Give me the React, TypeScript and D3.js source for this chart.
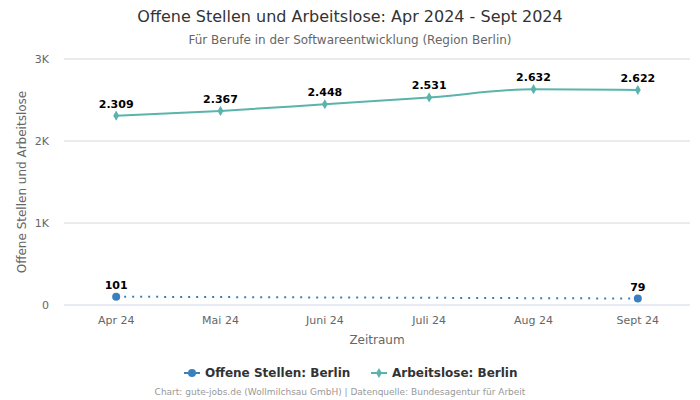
import React from "react";
import * as d3 from "d3";

const categories = ["Apr 24", "Mai 24", "Juni 24", "Juli 24", "Aug 24", "Sept 24"];
const offeneStellen: (number | null)[] = [101, null, null, null, null, 79];
const arbeitslose: number[] = [2309, 2367, 2448, 2531, 2632, 2622];
const yTicks = [0, 1000, 2000, 3000];
const yTickLabels = ["0", "1K", "2K", "3K"];

const W = 700, H = 400;
const left = 64, right = 690, top = 59, bottom = 305;
const font = "DejaVu Sans, sans-serif";
const teal = "#5ab4ac";
const blue = "#3a80be";

const fmt = (v: number) => d3.format(",")(v).replace(/,/g, ".");

export default function App() {
  const x = d3.scaleBand<string>().domain(categories).range([left, right]);
  const cx = (c: string) => (x(c) as number) + x.bandwidth() / 2;
  const y = d3.scaleLinear().domain([0, 3000]).range([bottom, top]);

  const tealLine = d3
    .line<number>()
    .x((_, i) => cx(categories[i]))
    .y((d) => y(d))
    .curve(d3.curveMonotoneX)(arbeitslose) as string;

  const blueDefined = offeneStellen
    .map((v, i) => ({ v, i }))
    .filter((d) => d.v !== null) as { v: number; i: number }[];
  const blueLine = d3
    .line<{ v: number; i: number }>()
    .x((d) => cx(categories[d.i]))
    .y((d) => y(d.v))(blueDefined) as string;

  const diamond = d3.symbol().type(d3.symbolDiamond).size(30)() as string;

  return (
    <svg width={W} height={H} style={{ position: "absolute", left: 0, top: 0, fontFamily: font }}>
      <rect width={W} height={H} fill="#fff" />
      <text x={W / 2} y={22} textAnchor="middle" fontSize={16} fill="#333">
        Offene Stellen und Arbeitslose: Apr 2024 - Sept 2024
      </text>
      <text x={W / 2} y={44} textAnchor="middle" fontSize={12} fill="#666">
        Für Berufe in der Softwareentwicklung (Region Berlin)
      </text>
      {yTicks.map((t, i) => (
        <g key={t}>
          <line x1={left} x2={right} y1={y(t)} y2={y(t)} stroke={i === 0 ? "#ccd6eb" : "#d8d8d8"} strokeWidth={1} />
          <text x={49} y={y(t) + 4} textAnchor="end" fontSize={11} fill="#666">
            {yTickLabels[i]}
          </text>
        </g>
      ))}
      {categories.map((c) => (
        <text key={c} x={cx(c)} y={324} textAnchor="middle" fontSize={11} fill="#666">
          {c}
        </text>
      ))}
      <text x={(left + right) / 2} y={344} textAnchor="middle" fontSize={12} fill="#666">
        Zeitraum
      </text>
      <text
        transform={`translate(26, ${(top + bottom) / 2}) rotate(-90)`}
        textAnchor="middle"
        fontSize={12}
        fill="#666"
      >
        Offene Stellen und Arbeitslose
      </text>

      <path d={tealLine} fill="none" stroke={teal} strokeWidth={2} />
      {arbeitslose.map((v, i) => (
        <g key={i}>
          <path d={diamond} transform={`translate(${cx(categories[i])},${y(v)})`} fill={teal} />
          <text x={cx(categories[i])} y={y(v) - 8} textAnchor="middle" fontSize={11} fontWeight="bold" fill="#000">
            {fmt(v)}
          </text>
        </g>
      ))}

      <path d={blueLine} fill="none" stroke={blue} strokeWidth={2} strokeDasharray="2,6" />
      {blueDefined.map((d) => (
        <g key={d.i}>
          <circle cx={cx(categories[d.i])} cy={y(d.v)} r={4} fill={blue} />
          <text x={cx(categories[d.i])} y={y(d.v) - 8} textAnchor="middle" fontSize={11} fontWeight="bold" fill="#000">
            {fmt(d.v)}
          </text>
        </g>
      ))}

      <g transform="translate(184,373)">
        <line x1={0} x2={16} y1={0} y2={0} stroke={blue} strokeWidth={2} />
        <circle cx={8} cy={0} r={4} fill={blue} />
        <text x={21} y={4} fontSize={12} fontWeight="bold" fill="#333">
          Offene Stellen: Berlin
        </text>
      </g>
      <g transform="translate(371,373)">
        <line x1={0} x2={16} y1={0} y2={0} stroke={teal} strokeWidth={2} />
        <path d={diamond} transform="translate(8,0)" fill={teal} />
        <text x={21} y={4} fontSize={12} fontWeight="bold" fill="#333">
          Arbeitslose: Berlin
        </text>
      </g>
      <text x={340} y={395} textAnchor="middle" fontSize={9} fill="#999">
        Chart: gute-jobs.de (Wollmilchsau GmbH) | Datenquelle: Bundesagentur für Arbeit
      </text>
    </svg>
  );
}
